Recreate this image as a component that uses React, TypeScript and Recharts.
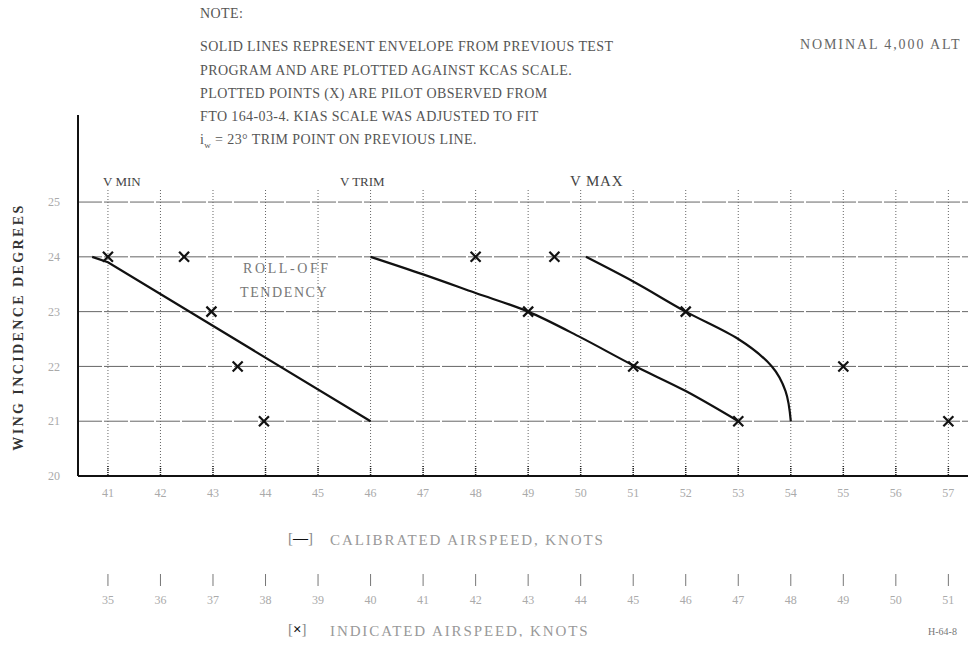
import { ComposedChart, Line, Scatter, XAxis, YAxis, CartesianGrid } from 'recharts';

const casTicks = [41, 42, 43, 44, 45, 46, 47, 48, 49, 50, 51, 52, 53, 54, 55, 56, 57];
const iasTicks = [35, 36, 37, 38, 39, 40, 41, 42, 43, 44, 45, 46, 47, 48, 49, 50, 51];
const incidenceTicks = [20, 21, 22, 23, 24, 25];

// envelope from previous test program (KCAS)
const vMinLine = [
    { kcas: 40.7, iw: 24 },
    { kcas: 41, iw: 23.9 },
    { kcas: 46, iw: 21 },
];
const vTrimLine = [
    { kcas: 46, iw: 24 },
    { kcas: 47, iw: 23.68 },
    { kcas: 48, iw: 23.34 },
    { kcas: 49, iw: 23 },
    { kcas: 50, iw: 22.53 },
    { kcas: 51, iw: 22.02 },
    { kcas: 52, iw: 21.55 },
    { kcas: 53, iw: 21 },
];
const vMaxLine = [
    { kcas: 50.1, iw: 24 },
    { kcas: 51, iw: 23.55 },
    { kcas: 52, iw: 23 },
    { kcas: 53, iw: 22.5 },
    { kcas: 53.64, iw: 22 },
    { kcas: 53.9, iw: 21.55 },
    { kcas: 54, iw: 21 },
];

// pilot observed points (KIAS)
const pilotPoints = [
    { kias: 35, iw: 24 },
    { kias: 36.45, iw: 24 },
    { kias: 36.97, iw: 23 },
    { kias: 37.47, iw: 22 },
    { kias: 37.97, iw: 21 },
    { kias: 42, iw: 24 },
    { kias: 43, iw: 23 },
    { kias: 43.5, iw: 24 },
    { kias: 45, iw: 22 },
    { kias: 46, iw: 23 },
    { kias: 47, iw: 21 },
    { kias: 49, iw: 22 },
    { kias: 51, iw: 21 },
];

const serif = '"Liberation Serif", "DejaVu Serif", serif';

const Cross = (props: any) => {
    const { cx, cy } = props;
    const s = 5;
    return (
        <g stroke="#111" strokeWidth={2.2}>
            <line x1={cx - s} y1={cy - s} x2={cx + s} y2={cy + s} />
            <line x1={cx - s} y1={cy + s} x2={cx + s} y2={cy - s} />
        </g>
    );
};

const txt = (left: number, top: number, size: number, color: string, extra: any = {}) => ({
    position: 'absolute' as const,
    left,
    top,
    fontSize: size,
    color,
    whiteSpace: 'nowrap' as const,
    lineHeight: 1,
    ...extra,
});

export default function App() {
    return (
        <div style={{ position: 'relative', width: 976, height: 645, margin: -8, background: '#fff', overflow: 'hidden', fontFamily: serif }}>
            <ComposedChart
                width={976}
                height={645}
                margin={{ top: 190, right: 4, bottom: 0, left: 0 }}
                style={{ position: 'absolute', left: 0, top: 0 }}
            >
                <CartesianGrid xAxisId="cas" vertical={false} horizontalValues={incidenceTicks} stroke="#666" strokeDasharray="24 2" />
                <CartesianGrid xAxisId="cas" horizontal={false} verticalValues={casTicks} stroke="#666" strokeDasharray="1 2" />
                <XAxis
                    xAxisId="cas"
                    type="number"
                    dataKey="kcas"
                    domain={[40.43, 57.45]}
                    ticks={casTicks}
                    height={98}
                    axisLine={{ stroke: '#111', strokeWidth: 2 }}
                    tickLine={{ stroke: '#222', strokeDasharray: '1 1', strokeWidth: 1.5 }}
                    tickSize={-10}
                    tickMargin={22}
                    tick={{ fill: '#aaa', fontSize: 12, fontFamily: serif }}
                />
                <XAxis
                    xAxisId="ias"
                    type="number"
                    dataKey="kias"
                    domain={[34.43, 51.45]}
                    ticks={iasTicks}
                    height={71}
                    axisLine={false}
                    tickLine={{ stroke: '#777' }}
                    tickSize={12}
                    tickMargin={9}
                    tick={{ fill: '#aaa', fontSize: 12, fontFamily: serif }}
                />
                <YAxis
                    type="number"
                    dataKey="iw"
                    domain={[20, 25.22]}
                    ticks={incidenceTicks}
                    width={78}
                    axisLine={{ stroke: '#111', strokeWidth: 2 }}
                    tickLine={false}
                    tickMargin={12}
                    tick={{ fill: '#aaa', fontSize: 12, fontFamily: serif }}
                />
                <Line xAxisId="cas" data={vMinLine} dataKey="iw" type="linear" stroke="#111" strokeWidth={2.2} dot={false} isAnimationActive={false} />
                <Line xAxisId="cas" data={vTrimLine} dataKey="iw" type="monotone" stroke="#111" strokeWidth={2.2} dot={false} isAnimationActive={false} />
                <Line xAxisId="cas" data={vMaxLine} dataKey="iw" type="monotoneY" stroke="#111" strokeWidth={2.2} dot={false} isAnimationActive={false} />
                <Scatter xAxisId="ias" data={pilotPoints} dataKey="iw" shape={Cross} isAnimationActive={false} />
            </ComposedChart>

            {/* y axis extends above the grid */}
            <div style={{ position: 'absolute', left: 77, top: 115, width: 2, height: 76, background: '#111' }} />

            <div style={txt(200, 7, 14, '#555', { letterSpacing: 0.4 })}>NOTE:</div>
            <div style={txt(200, 40, 14, '#555', { letterSpacing: 0.4 })}>SOLID LINES REPRESENT ENVELOPE FROM PREVIOUS TEST</div>
            <div style={txt(200, 64, 14, '#555', { letterSpacing: 0.4 })}>PROGRAM AND ARE PLOTTED AGAINST KCAS SCALE.</div>
            <div style={txt(200, 87, 14, '#555', { letterSpacing: 0.4 })}>PLOTTED POINTS (X) ARE PILOT OBSERVED FROM</div>
            <div style={txt(200, 110, 14, '#555', { letterSpacing: 0.4 })}>FTO 164-03-4. KIAS SCALE WAS ADJUSTED TO FIT</div>
            <div style={txt(200, 133, 14, '#555', { letterSpacing: 0.4 })}>
                i<sub style={{ fontSize: 9 }}>w</sub> = 23° TRIM POINT ON PREVIOUS LINE.
            </div>
            <div style={txt(800, 38, 14, '#666', { letterSpacing: 1.9 })}>NOMINAL 4,000 ALT</div>

            <div style={txt(103, 175, 13, '#444')}>V MIN</div>
            <div style={txt(340, 175, 13, '#444')}>V TRIM</div>
            <div style={txt(570, 174, 15, '#444', { letterSpacing: 0.8 })}>V MAX</div>

            <div style={txt(243, 262, 14, '#777', { letterSpacing: 2.6 })}>ROLL-OFF</div>
            <div style={txt(240, 286, 14, '#777', { letterSpacing: 1.6 })}>TENDENCY</div>

            <div style={txt(-119, 320, 14, '#333', { width: 276, textAlign: 'center', transform: 'rotate(-90deg)', letterSpacing: 2.4, fontWeight: 'bold' })}>
                WING INCIDENCE DEGREES
            </div>

            <div style={txt(288, 531, 15, '#888')}>
                [<span style={{ fontWeight: 'bold', color: '#111' }}>—</span>]
            </div>
            <div style={txt(330, 533, 15, '#999', { letterSpacing: 1.9 })}>CALIBRATED AIRSPEED, KNOTS</div>
            <div style={txt(288, 622, 15, '#888')}>
                [<span style={{ fontWeight: 'bold', color: '#111' }}>×</span>]
            </div>
            <div style={txt(330, 624, 15, '#999', { letterSpacing: 1.9 })}>INDICATED AIRSPEED, KNOTS</div>
            <div style={txt(928, 627, 10, '#777')}>H-64-8</div>
        </div>
    );
}
